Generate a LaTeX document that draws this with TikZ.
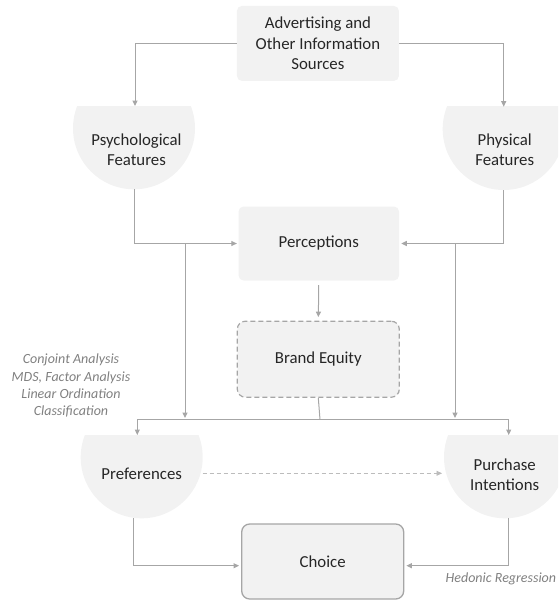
\documentclass[tikz,border=0pt]{standalone}
\usepackage{fontspec}
\setmainfont{Carlito}
\usetikzlibrary{arrows.meta}
\definecolor{shapefill}{HTML}{F2F2F2}
\definecolor{linegray}{HTML}{A6A6A6}
\definecolor{txt}{HTML}{262626}
\definecolor{labelgray}{HTML}{808080}
\begin{document}
\begin{tikzpicture}[x=1pt,y=-1pt,
  box/.style={fill=shapefill, rounded corners=5pt, minimum width=162pt, minimum height=75pt, inner sep=0pt, align=center, font=\fontsize{16.8}{20.5}\selectfont, text=txt},
  conn/.style={draw=linegray, line width=1pt, -{Triangle[length=5.5pt,width=5pt]}},
  plain/.style={draw=linegray, line width=1pt},
  lbl/.style={font=\fontsize{16.8}{20.5}\selectfont, text=txt, align=center, inner sep=0pt},
  note/.style={font=\itshape\fontsize{14}{17.2}\selectfont, text=labelgray, align=center, inner sep=0pt}]
\useasboundingbox (0,0) rectangle (558,600);
\clip (0,0) rectangle (558,600);
% half-round shapes
\begin{scope}
  \clip (0,106) rectangle (558,300);
  \fill[shapefill] (134,128.3) circle[radius=61pt];
  \fill[shapefill] (503.7,129) circle[radius=61pt];
\end{scope}
\begin{scope}
  \clip (0,435) rectangle (558,530);
  \fill[shapefill] (141.7,457.3) circle[radius=61pt];
  \fill[shapefill] (505,457.3) circle[radius=61pt];
\end{scope}
% boxes
\node[box] (adv) at (317.9,43.4) {Advertising and\\Other Information\\Sources};
\node[box, minimum width=160.5pt, minimum height=74pt] (perc) at (318.8,243.5) {Perceptions};
\node[box, draw=linegray, dash pattern=on 5pt off 3pt, line width=1.2pt, rounded corners=8pt, minimum height=76pt] (brand) at (318.3,359.2) {Brand Equity};
\node[box, draw=linegray, line width=1.3pt, rounded corners=8pt] (choice) at (322.7,561.5) {Choice};
% shape texts
\node[lbl] (psych) at (136.5,149.7) {Psychological\\Features};
\node[lbl] (phys) at (504.7,149.5) {Physical\\Features};
\node[lbl] (pref) at (141.7,473.3) {Preferences};
\node[lbl] (pur) at (504.7,474.5) {Purchase\\Intentions};
\node[note] (methods) at (71,385.7) {Conjoint Analysis\\MDS, Factor Analysis\\Linear Ordination\\Classification};
\node[note, anchor=west] (hedonic) at (445.5,579) {Hedonic Regression};
% coordinates
\coordinate (psychtop) at (135,106);
\coordinate (phystop) at (503.7,106.7);
\coordinate (psychbot) at (134.5,189.3);
\coordinate (physbot) at (503.7,190);
\coordinate (lsplit) at (185,243.5);
\coordinate (rsplit) at (455,243.5);
\coordinate (lmerge) at (185,419.5);
\coordinate (rmerge) at (455,419.5);
\coordinate (bus) at (320,419.5);
\coordinate (preftop) at (137.3,435);
\coordinate (purtop) at (508.7,435);
\coordinate (prefright) at (202.7,473.3);
\coordinate (purleft) at (446,473.3);
\coordinate (prefbot) at (133.3,518.3);
\coordinate (purbot) at (508.7,518.3);
% connectors
\draw[conn] (adv.west) -| (psychtop);
\draw[conn] (adv.east) -| (phystop);
\draw[conn, shorten >=1.5pt] (psychbot) |- (perc.west);
\draw[conn, shorten >=2pt] (physbot) |- (perc.east);
\draw[conn, shorten <=4.5pt, shorten >=3.5pt] (perc.south) -- (brand.north);
\draw[conn, shorten >=1.5pt] (lsplit) -- (lmerge);
\draw[conn, shorten >=1.5pt] (rsplit) -- (rmerge);
\draw[plain] (brand.south) -- (bus);
\draw[conn] (bus) -| (preftop);
\draw[conn] (bus) -| (purtop);
\draw[conn, draw=linegray!75, line width=0.8pt, dash pattern=on 4pt off 3pt, shorten >=4pt] (prefright) -- (purleft);
\draw[conn, shorten >=2pt] (prefbot) |- ([yshift=-4.2pt]choice.west);
\draw[conn, shorten >=2pt] (purbot) |- ([yshift=-4.2pt]choice.east);
\end{tikzpicture}
\end{document}
